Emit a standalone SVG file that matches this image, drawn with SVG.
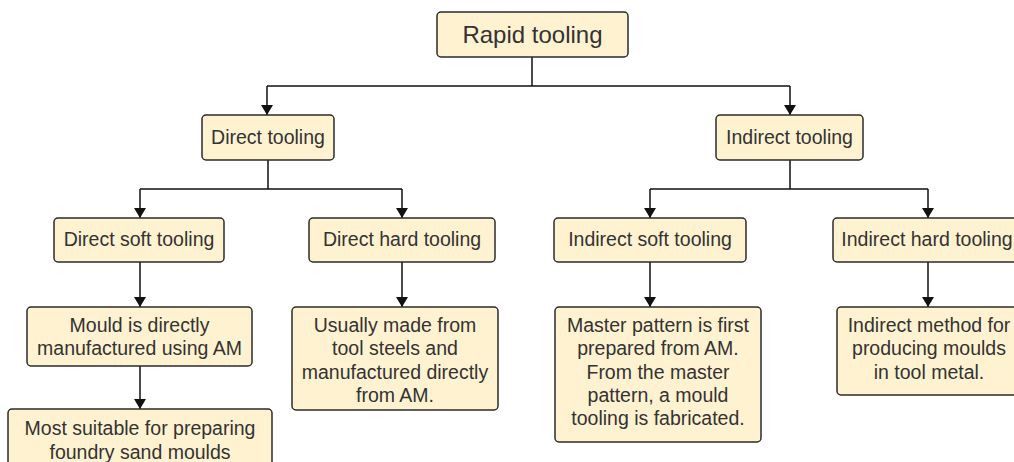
<svg xmlns="http://www.w3.org/2000/svg" width="1014" height="462" viewBox="0 0 1014 462">
  <defs>
    <marker id="arrow" viewBox="0 0 10 12" refX="10" refY="6" markerWidth="10" markerHeight="12" markerUnits="userSpaceOnUse" orient="auto">
      <path d="M0,0 L10,6 L0,12 Z" fill="#111"/>
    </marker>
    <style>
      .box { fill: #fff2d0; stroke: #2b2b2b; stroke-width: 1.5; }
      .lbl { font-family: "Liberation Sans", Arial, sans-serif; font-size: 19.5px; fill: #333; text-anchor: middle; }
      .big { font-size: 24px; }
      .wire { fill: none; stroke: #111; stroke-width: 1.5; }
      .arr { fill: none; stroke: #111; stroke-width: 1.5; marker-end: url(#arrow); }
    </style>
  </defs>
  <rect width="1014" height="462" fill="#ffffff"/>

  <!-- connectors -->
  <g id="connectors">
    <path class="wire" d="M532,57 V86 M267,86 H790"/>
    <path class="arr" d="M267,86 V115"/>
    <path class="arr" d="M790,86 V115"/>

    <path class="wire" d="M268,160 V189 M140,189 H402"/>
    <path class="arr" d="M140,189 V218"/>
    <path class="arr" d="M402,189 V218"/>

    <path class="wire" d="M790,160 V189 M650,189 H928"/>
    <path class="arr" d="M650,189 V218"/>
    <path class="arr" d="M928,189 V218"/>

    <path class="arr" d="M140,262 V307"/>
    <path class="arr" d="M140,366 V409"/>
    <path class="arr" d="M402,262 V307"/>
    <path class="arr" d="M650,262 V307"/>
    <path class="arr" d="M928,262 V307"/>
  </g>

  <!-- nodes -->
  <g id="rapid-tooling">
    <rect class="box" x="437" y="12" width="191" height="45" rx="4"/>
    <text class="lbl big" x="532.5" y="43">Rapid tooling</text>
  </g>

  <g id="direct-tooling">
    <rect class="box" x="202" y="115" width="132" height="45" rx="4"/>
    <text class="lbl" x="268" y="144">Direct tooling</text>
  </g>

  <g id="indirect-tooling">
    <rect class="box" x="716" y="115" width="147" height="45" rx="4"/>
    <text class="lbl" x="789.5" y="144">Indirect tooling</text>
  </g>

  <g id="direct-soft-tooling">
    <rect class="box" x="54" y="218" width="170" height="44" rx="4"/>
    <text class="lbl" x="139" y="246">Direct soft tooling</text>
  </g>

  <g id="direct-hard-tooling">
    <rect class="box" x="309" y="218" width="186" height="44" rx="4"/>
    <text class="lbl" x="402" y="246">Direct hard tooling</text>
  </g>

  <g id="indirect-soft-tooling">
    <rect class="box" x="554" y="218" width="192" height="44" rx="4"/>
    <text class="lbl" x="650" y="246">Indirect soft tooling</text>
  </g>

  <g id="indirect-hard-tooling">
    <rect class="box" x="833" y="218" width="192" height="44" rx="4"/>
    <text class="lbl" x="927" y="246">Indirect hard tooling</text>
  </g>

  <g id="mould-direct-am">
    <rect class="box" x="27" y="307" width="225" height="59" rx="4"/>
    <text class="lbl" x="139.5" y="332">Mould is directly</text>
    <text class="lbl" x="139.5" y="355">manufactured using AM</text>
  </g>

  <g id="foundry-sand">
    <rect class="box" x="8" y="409" width="264" height="70" rx="4"/>
    <text class="lbl" x="140" y="435">Most suitable for preparing</text>
    <text class="lbl" x="140" y="459">foundry sand moulds</text>
  </g>

  <g id="tool-steels">
    <rect class="box" x="292" y="307" width="206" height="103" rx="4"/>
    <text class="lbl" x="395" y="332">Usually made from</text>
    <text class="lbl" x="395" y="355">tool steels and</text>
    <text class="lbl" x="395" y="379">manufactured directly</text>
    <text class="lbl" x="395" y="402">from AM.</text>
  </g>

  <g id="master-pattern">
    <rect class="box" x="555" y="307" width="206" height="135" rx="4"/>
    <text class="lbl" x="658" y="332">Master pattern is first</text>
    <text class="lbl" x="658" y="355">prepared from AM.</text>
    <text class="lbl" x="658" y="379">From the master</text>
    <text class="lbl" x="658" y="402">pattern, a mould</text>
    <text class="lbl" x="658" y="425">tooling is fabricated.</text>
  </g>

  <g id="tool-metal">
    <rect class="box" x="837" y="307" width="190" height="88" rx="4"/>
    <text class="lbl" x="929" y="332">Indirect method for</text>
    <text class="lbl" x="929" y="355">producing moulds</text>
    <text class="lbl" x="929" y="379">in tool metal.</text>
  </g>
</svg>
